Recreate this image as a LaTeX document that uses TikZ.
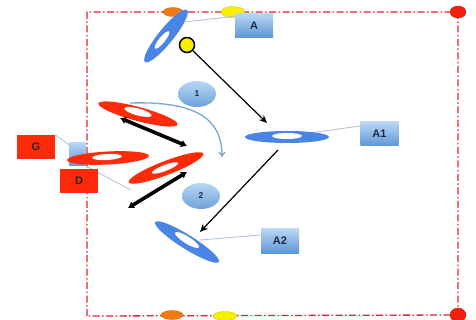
\documentclass[tikz,border=0pt]{standalone}
\usepackage{fontspec}
\setmainfont{Liberation Sans}
\usetikzlibrary{shapes.geometric,arrows.meta,calc}
\definecolor{fieldred}{HTML}{D8262C}
\definecolor{playblue}{HTML}{4A84E4}
\definecolor{oppred}{HTML}{FF2A0A}
\definecolor{tagtop}{HTML}{B9D6F4}
\definecolor{tagbot}{HTML}{5E97D6}
\definecolor{navy}{HTML}{1C2A4A}
\definecolor{linegray}{HTML}{B4C4D6}
\definecolor{runblue}{HTML}{7BA6D0}
\definecolor{dotorange}{HTML}{F07A14}
\definecolor{dotyellow}{HTML}{F8F000}
\definecolor{dotred}{HTML}{F0200C}
\begin{document}
\begin{tikzpicture}[x=1pt,y=-1pt,
  player/.style={ellipse, inner sep=0pt, fill=#1, draw=none},
  hole/.style={ellipse, inner sep=0pt, fill=white, draw=none},
  tag/.style={rectangle, inner sep=0pt, minimum width=38pt, minimum height=24pt,
    top color=tagtop, bottom color=tagbot, text=navy,
    font=\fontsize{11}{13}\selectfont\bfseries},
  redtag/.style={rectangle, inner sep=0pt, minimum width=38pt, minimum height=24pt,
    fill=oppred, text=black!85, font=\fontsize{11}{13}\selectfont\bfseries},
  num/.style={ellipse, inner sep=0pt, minimum width=38pt, minimum height=26pt,
    top color=tagtop, bottom color=tagbot!90, text=navy,
    font=\fontsize{8.5}{10}\selectfont\bfseries},
  edgedot/.style={ellipse, inner sep=0pt, fill=#1, draw=#1!80!black, line width=0.3pt},
  callout/.style={draw=linegray, line width=0.9pt},
  pass/.style={draw=black, line width=1.2pt, -{Stealth[length=8pt,width=7pt]}},
  duel/.style={draw=black, line width=3.6pt,
    {Latex[length=6pt,width=8pt]}-{Latex[length=6pt,width=8pt]}},
  run/.style={draw=runblue, line width=1.3pt, -{To[length=5pt,width=7pt]}},
  border/.style={draw=fieldred, line width=1.3pt,
    dash pattern=on 7pt off 2.5pt on 1.5pt off 2.5pt}
]
\useasboundingbox (0,0) rectangle (476,320);

% pitch boundary
\draw[border] (87,316) -- (87,12) -- (458,12) -- (458,315) -- cycle;

% markers on the boundary
\node[edgedot=dotorange, minimum width=20pt, minimum height=9pt] (o1) at (173,12) {};
\node[edgedot=dotyellow, minimum width=24pt, minimum height=11pt] (y2) at (233,12) {};
\node[edgedot=dotred, minimum width=16pt, minimum height=12pt] (r1) at (458,12) {};
\node[edgedot=dotred, minimum width=16pt, minimum height=14pt] (r2) at (458,315) {};
\node[edgedot=dotorange, minimum width=22pt, minimum height=9pt] (o2) at (172,315) {};
\node[edgedot=dotyellow, minimum width=24pt, minimum height=9pt] (y3) at (225,316) {};

% label boxes and their leader lines
\node[tag] (tA) at (254,25.5) {A};
\node[tag] (tA1) at (379.5,134) {A1};
\node[tag] (tA2) at (280,241) {A2};
\coordinate (cA) at (185,22);
\coordinate (cA1) at (310,133);
\coordinate (cA2) at (200,240);
\draw[callout] (cA) -- ($(tA.north west)+(0,3)$);
\draw[callout] (cA1) -- ($(tA1.west)+(0,-8)$);
\draw[callout] (cA2) -- ($(tA2.west)+(0,-6)$);

% defender markers on the left
\node[rectangle, inner sep=0pt, minimum width=17pt, minimum height=23pt,
  top color=tagtop, bottom color=tagbot] (sq) at (77.5,154.5) {};
\node[redtag] (tG) at (36,147) {G};
\coordinate (cG) at (72,147);
\draw[callout] (tG.north east) -- (cG);
\coordinate (cD) at (131,190);
\draw[callout] (sq.south east) -- (cD);

% attacking players (blue)
\node[player=playblue, minimum width=67pt, minimum height=15pt, rotate=51] (pA) at (166,36) {};
\node[hole, minimum width=22pt, minimum height=6pt, rotate=51] (hA) at (162,40) {};
\node[player=playblue, minimum width=84pt, minimum height=12pt] (pA1) at (287,137) {};
\node[hole, minimum width=30pt, minimum height=6pt] (hA1) at (287,136) {};
\node[player=playblue, minimum width=75pt, minimum height=14pt, rotate=-32] (pA2) at (187,242) {};
\node[hole, minimum width=28pt, minimum height=7pt, rotate=-32] (hA2) at (187,240) {};

% defending players (red)
\node[player=oppred, minimum width=82pt, minimum height=14pt, rotate=-15] (d1) at (138,114) {};
\node[hole, minimum width=28pt, minimum height=7pt, rotate=-15] (hd1) at (138,112) {};
\node[player=oppred, minimum width=82pt, minimum height=13pt, rotate=3] (d2) at (108,158) {};
\node[hole, minimum width=30pt, minimum height=6pt, rotate=3] (hd2) at (107,157) {};
\node[player=oppred, minimum width=80pt, minimum height=14pt, rotate=21] (d3) at (166,168) {};
\node[hole, minimum width=28pt, minimum height=6pt, rotate=21] (hd3) at (165,168) {};

\node[redtag] (tD) at (79,181) {D};

% ball
\node[circle, inner sep=0pt, minimum size=15pt, fill=dotyellow, draw=black, line width=1.5pt] (ball) at (187,45) {};

% step numbers
\node[num] (n1) at (197,94) {1};
\node[num] (n2) at (201,196) {2};

% passes
\coordinate (tipA1) at (267,123);
\coordinate (outA1) at (278,150);
\coordinate (tipA2) at (200,232);
\draw[pass] (ball) -- (tipA1);
\draw[pass] (outA1) -- (tipA2);

% duels
\coordinate (u1) at (120,118);
\coordinate (u2) at (187,146);
\coordinate (w1) at (128,208);
\coordinate (w2) at (187,172);
\draw[duel] (u1) -- (u2);
\draw[duel] (w1) -- (w2);

% run of the defender
\coordinate (runS) at (130,103);
\coordinate (runE) at (222,157);
\draw[run] (runS) .. controls (195,101) and (222,118) .. (runE);
\end{tikzpicture}
\end{document}
